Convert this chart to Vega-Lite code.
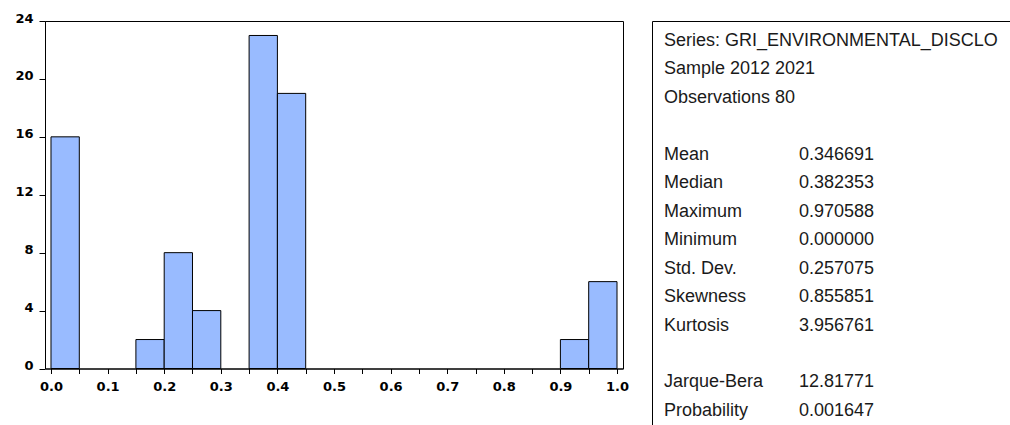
{
  "$schema": "https://vega.github.io/schema/vega-lite/v6.json",
  "padding": {"left": 14, "top": 11, "right": 0, "bottom": 0},
  "bounds": "flush",
  "spacing": 29,
  "background": "white",
  "config": {
    "view": {"stroke": "black", "strokeWidth": 1},
    "axis": {"grid": false, "domainColor": "black", "tickColor": "black", "labelColor": "black"}
  },
  "hconcat": [
    {
      "width": 578,
      "height": 347.5,
      "data": {
        "values": [
          {"bin_start": 0.0, "bin_end": 0.05, "count": 16},
          {"bin_start": 0.15, "bin_end": 0.2, "count": 2},
          {"bin_start": 0.2, "bin_end": 0.25, "count": 8},
          {"bin_start": 0.25, "bin_end": 0.3, "count": 4},
          {"bin_start": 0.35, "bin_end": 0.4, "count": 23},
          {"bin_start": 0.4, "bin_end": 0.45, "count": 19},
          {"bin_start": 0.9, "bin_end": 0.95, "count": 2},
          {"bin_start": 0.95, "bin_end": 1.0, "count": 6}
        ]
      },
      "mark": {"type": "bar", "color": "#99bbff", "stroke": "black", "strokeWidth": 1},
      "encoding": {
        "x": {
          "field": "bin_start",
          "type": "quantitative",
          "scale": {"domain": [-0.0106, 1.0106], "nice": false, "zero": false},
          "axis": {
            "title": null,
            "values": [0, 0.05, 0.1, 0.15, 0.2, 0.25, 0.3, 0.35, 0.4, 0.45, 0.5, 0.55, 0.6, 0.65, 0.7, 0.75, 0.8, 0.85, 0.9, 0.95, 1.0],
            "labelExpr": "(round(datum.value*20)%2==0) ? format(datum.value,'.1f') : ''",
            "labelFont": "DejaVu Sans",
            "labelFontWeight": "bold",
            "labelFontSize": 13,
            "labelFlush": false,
            "labelOverlap": false,
            "tickSize": 5,
            "labelPadding": 7
          }
        },
        "x2": {"field": "bin_end"},
        "y": {
          "field": "count",
          "type": "quantitative",
          "scale": {"domain": [0, 24], "nice": false},
          "axis": {
            "title": null,
            "values": [0, 4, 8, 12, 16, 20, 24],
            "labelFont": "DejaVu Sans",
            "labelFontWeight": "bold",
            "labelFontSize": 13,
            "labelFlush": false,
            "labelOverlap": false,
            "labelOffset": -3,
            "tickSize": 6,
            "labelPadding": 6
          }
        },
        "y2": {"datum": 0}
      }
    },
    {
      "width": 358,
      "height": 404,
      "view": {"stroke": null},
      "data": {
        "values": [
          {"row": 0, "label": "Series: GRI_ENVIRONMENTAL_DISCLO", "value": ""},
          {"row": 1, "label": "Sample 2012 2021", "value": ""},
          {"row": 2, "label": "Observations 80", "value": ""},
          {"row": 4, "label": "Mean", "value": "0.346691"},
          {"row": 5, "label": "Median", "value": "0.382353"},
          {"row": 6, "label": "Maximum", "value": "0.970588"},
          {"row": 7, "label": "Minimum", "value": "0.000000"},
          {"row": 8, "label": "Std. Dev.", "value": "0.257075"},
          {"row": 9, "label": "Skewness", "value": "0.855851"},
          {"row": 10, "label": "Kurtosis", "value": "3.956761"},
          {"row": 12, "label": "Jarque-Bera", "value": "12.81771"},
          {"row": 13, "label": "Probability", "value": "0.001647"}
        ]
      },
      "encoding": {
        "y": {
          "field": "row",
          "type": "quantitative",
          "scale": {"domain": [-0.703, 13.497], "reverse": true, "nice": false, "zero": false},
          "axis": {"orient": "left", "title": null, "domain": true, "ticks": false, "labels": false, "grid": false}
        }
      },
      "layer": [
        {
          "mark": {"type": "text", "align": "left", "baseline": "middle", "font": "Liberation Sans", "fontSize": 18, "color": "#1a1a1a"},
          "encoding": {
            "x": {
              "datum": 0,
              "type": "quantitative",
              "scale": {"domain": [-0.0889, 2.563], "nice": false, "zero": false},
              "axis": {"orient": "top", "title": null, "domain": true, "ticks": false, "labels": false, "grid": false}
            },
            "text": {"field": "label"}
          }
        },
        {
          "mark": {"type": "text", "align": "left", "baseline": "middle", "font": "Liberation Sans", "fontSize": 18, "color": "#1a1a1a"},
          "encoding": {
            "x": {"datum": 1, "type": "quantitative"},
            "text": {"field": "value"}
          }
        }
      ]
    }
  ]
}
